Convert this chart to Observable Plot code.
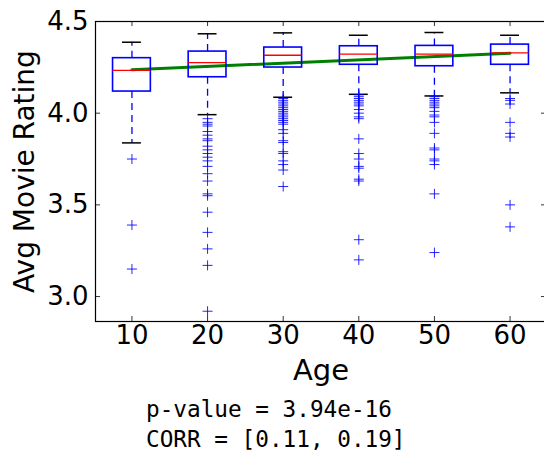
<!DOCTYPE html>
<html><head><meta charset="utf-8">
<script src="https://cdn.jsdelivr.net/npm/d3@7"></script>
<script src="https://cdn.jsdelivr.net/npm/@observablehq/plot@0.6"></script>
<style>
html,body{margin:0;padding:0;background:#fff;overflow:hidden}
#cap{font-family:"DejaVu Sans Mono",monospace;font-size:22.7px;line-height:30px;margin-left:146px;margin-top:0px;color:#000;white-space:pre}
</style></head><body><div id="chart"></div><div id="cap"></div>
<script>
const ages = [10, 20, 30, 40, 50, 60];
const q1 = [4.118, 4.196, 4.249, 4.264, 4.256, 4.264];
const medians = [4.234, 4.276, 4.316, 4.322, 4.322, 4.329];
const q3 = [4.300, 4.336, 4.358, 4.365, 4.367, 4.374];
const whiskerLow = [3.838, 3.992, 4.087, 4.103, 4.094, 4.111];
const whiskerHigh = [4.387, 4.433, 4.438, 4.425, 4.440, 4.425];
const outliers10 = [3.75, 3.39, 3.15];
const outliers20 = [3.97, 3.95, 3.94, 3.93, 3.90, 3.88, 3.86, 3.85, 3.82, 3.80, 3.78, 3.76, 3.74, 3.71, 3.67, 3.63, 3.56, 3.55, 3.46, 3.35, 3.26, 3.17, 2.92];
const outliers30 = [4.08, 4.07, 4.06, 4.05, 4.04, 4.03, 4.02, 4.01, 4.00, 3.99, 3.98, 3.97, 3.96, 3.95, 3.94, 3.91, 3.89, 3.85, 3.84, 3.79, 3.78, 3.74, 3.72, 3.69, 3.60];
const outliers40 = [4.10, 4.09, 4.08, 4.07, 4.06, 4.05, 4.04, 4.02, 4.00, 3.98, 3.97, 3.86, 3.78, 3.75, 3.71, 3.70, 3.64, 3.63, 3.31, 3.20];
const outliers50 = [4.09, 4.08, 4.07, 4.06, 4.05, 4.04, 4.03, 4.01, 3.99, 3.98, 3.95, 3.89, 3.81, 3.80, 3.75, 3.74, 3.72, 3.56, 3.24];
const outliers60 = [4.08, 4.07, 4.05, 3.95, 3.89, 3.87, 3.50, 3.38];
const fitAges = [10, 60];
const fitValues = [4.237, 4.327];
const yTicks = [3.0, 3.5, 4.0, 4.5];
const xLabel = "Age";
const yLabel = "Avg Movie Rating";
const captionLines = ["p-value = 3.94e-16", "CORR = [0.11, 0.19]"];

const boxes = ages.map((a, i) => ({age: a, q1: q1[i], med: medians[i], q3: q3[i], lo: whiskerLow[i], hi: whiskerHigh[i]}));
const outlierLists = [outliers10, outliers20, outliers30, outliers40, outliers50, outliers60];
const fliers = outlierLists.flatMap((list, i) => list.map(v => ({age: ages[i], v})));
const fit = fitAges.map((a, i) => ({age: a, v: fitValues[i]}));

const plusSymbol = {
  draw(ctx, size) {
    const r = Math.sqrt(size / Math.PI);
    ctx.moveTo(-r, 0); ctx.lineTo(r, 0);
    ctx.moveTo(0, -r); ctx.lineTo(0, r);
  }
};

const W = 544, H = 394;
const mTop = 21, mBottom = H - 321, mLeft = 95, mRight = -2;
const frameH = H - mTop - mBottom;
const frameW = W - mLeft - mRight;

const chart = Plot.plot({
  width: W, height: H,
  marginTop: mTop, marginBottom: mBottom, marginLeft: mLeft, marginRight: mRight,
  style: {fontFamily: "DejaVu Sans", background: "#fff", color: "#000"},
  x: {domain: [5.18, 64.82], axis: null},
  y: {domain: [2.864, 4.5], axis: null},
  marks: [
    Plot.line(fit, {x: "age", y: "v", stroke: "#008000", strokeWidth: 3}),
    Plot.ruleX(boxes, {x: "age", y1: "q3", y2: "hi", stroke: "#0000ff", strokeWidth: 1.3, strokeDasharray: "7,5"}),
    Plot.ruleX(boxes, {x: "age", y1: "q1", y2: "lo", stroke: "#0000ff", strokeWidth: 1.3, strokeDasharray: "7,5"}),
    Plot.ruleY(boxes, {y: "hi", x1: d => d.age - 1.25, x2: d => d.age + 1.25, stroke: "#000", strokeWidth: 1.5}),
    Plot.ruleY(boxes, {y: "lo", x1: d => d.age - 1.25, x2: d => d.age + 1.25, stroke: "#000", strokeWidth: 1.5}),
    Plot.rect(boxes, {x1: d => d.age - 2.5, x2: d => d.age + 2.5, y1: "q1", y2: "q3", fill: "none", stroke: "#0000ff", strokeWidth: 1.6}),
    Plot.ruleY(boxes, {y: "med", x1: d => d.age - 2.5, x2: d => d.age + 2.5, stroke: "#ff0000", strokeWidth: 1.3}),
    Plot.dot(fliers, {x: "age", y: "v", symbol: plusSymbol, r: 5, stroke: "#0000ff", strokeWidth: 1, fill: "none", strokeOpacity: 0.85}),
    Plot.tickX(ages, {x: d => d, insetTop: frameH - 5, stroke: "#000", strokeWidth: 0.8}),
    Plot.tickX(ages, {x: d => d, insetBottom: frameH - 5, stroke: "#000", strokeWidth: 0.8}),
    Plot.tickY(yTicks, {y: d => d, insetRight: frameW - 5, stroke: "#000", strokeWidth: 0.8}),
    Plot.tickY(yTicks, {y: d => d, insetLeft: frameW - 5, stroke: "#000", strokeWidth: 0.8}),
    Plot.text(ages, {x: d => d, frameAnchor: "bottom", dy: 22, text: d => String(d), fontSize: 26, fill: "#000"}),
    Plot.text(yTicks, {y: d => d, frameAnchor: "left", dx: -7, textAnchor: "end", text: d => d3.format(".1f")(d), fontSize: 26, fill: "#000"}),
    Plot.text([xLabel], {frameAnchor: "bottom", dy: 58, text: d => d, fontSize: 29, fill: "#000"}),
    Plot.text([yLabel], {frameAnchor: "left", dx: -70, rotate: -90, textAnchor: "middle", text: d => d, fontSize: 28, fill: "#000"}),
    Plot.frame({stroke: "#000", strokeWidth: 1.2})
  ]
});
document.getElementById("chart").appendChild(chart);
document.getElementById("cap").textContent = captionLines.join("\n");
</script></body></html>
